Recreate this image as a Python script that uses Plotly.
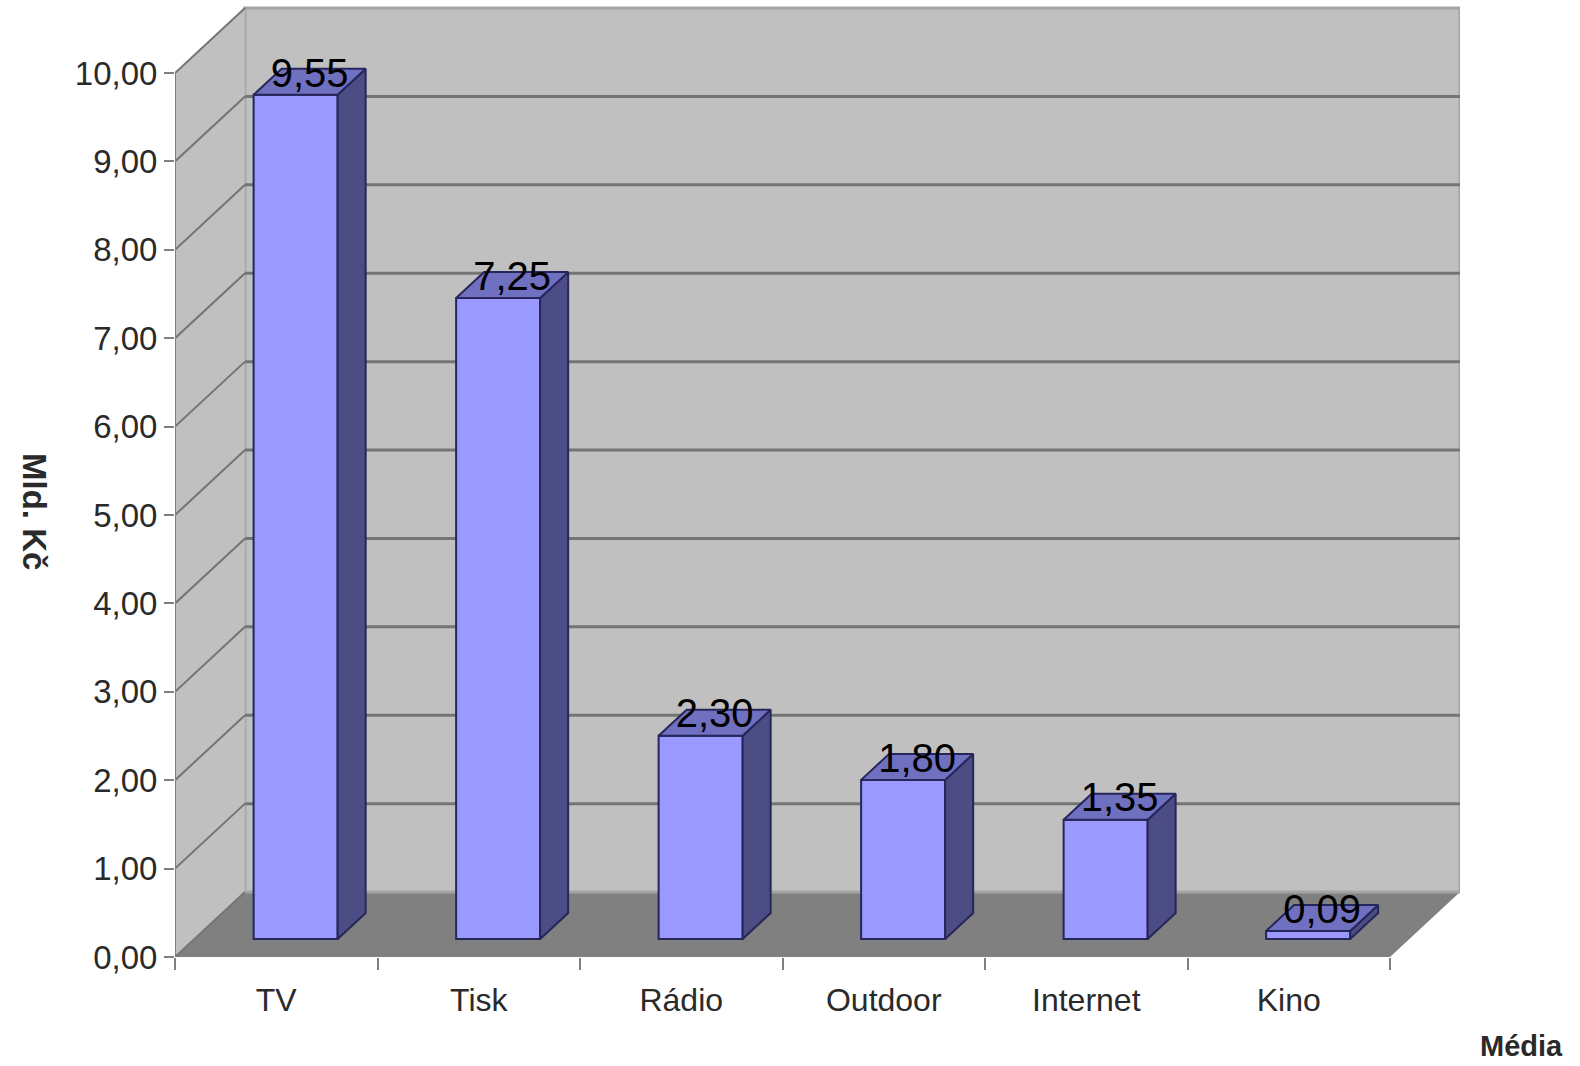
import plotly.graph_objects as go

# ---- data ----
categories = ["TV", "Tisk", "Rádio", "Outdoor", "Internet", "Kino"]
values = [9.55, 7.25, 2.30, 1.80, 1.35, 0.09]
y_ticks = [0, 1, 2, 3, 4, 5, 6, 7, 8, 9, 10]
y_title = "Mld. Kč"
x_title = "Média"

# ---- pseudo-3D geometry (in axis units) ----
n = len(categories)
DX = 0.3457      # depth offset along x (category units)
DY = 0.735       # depth offset along y (value units)
F1, F2 = 0.277, 0.677   # bar front / back depth fractions
BW = 0.415       # bar width
YMAX = 957 / 88.4

xl, xr = -0.5, n - 0.5

FRONT = "#9999FF"
TOP = "#7070C0"
SIDE = "#4D4D85"
EDGE = "#26265A"
WALL = "#C0C0C0"
FLOOR = "#808080"
GRID = "#747474"

fig = go.Figure()
shapes = []

# floor
shapes.append(dict(type="path", layer="below",
                   path=f"M {xl},0 L {xr},0 L {xr+DX},{DY} L {xl+DX},{DY} Z",
                   fillcolor=FLOOR, line=dict(width=0)))
# back wall
top = max(y_ticks)
shapes.append(dict(type="rect", layer="below", x0=xl + DX, x1=xr + DX, y0=DY, y1=top + DY,
                   fillcolor=WALL, line=dict(color="#A4A4A4", width=3)))
# side wall
shapes.append(dict(type="path", layer="below",
                   path=f"M {xl},0 L {xl},{top} L {xl+DX},{top+DY} L {xl+DX},{DY} Z",
                   fillcolor=WALL, line=dict(color="#B0B0B0", width=1)))
# gridlines on back wall + diagonals on side wall
for v in y_ticks:
    if 0 < v < top:
        shapes.append(dict(type="line", layer="below", x0=xl + DX, x1=xr + DX, y0=v + DY, y1=v + DY,
                           line=dict(color=GRID, width=3)))
    shapes.append(dict(type="line", layer="below", x0=xl, x1=xl + DX, y0=v, y1=v + DY,
                       line=dict(color=GRID, width=2)))
# front y-axis line
shapes.append(dict(type="line", x0=xl, x1=xl, y0=0, y1=top, line=dict(color="#808080", width=2)))

# bars: front faces
xc = [i + F1 * DX for i in range(n)]
fig.add_trace(go.Bar(x=xc, y=values, base=F1 * DY, width=BW,
                     marker=dict(color=FRONT, line=dict(color=EDGE, width=2)),
                     hoverinfo="skip", showlegend=False))

# top and side faces
dd = F2 - F1
tx, ty, sx, sy = [], [], [], []
for i, v in enumerate(values):
    x0 = xc[i] - BW / 2
    x1 = xc[i] + BW / 2
    y0 = F1 * DY
    y1 = y0 + v
    tx += [x0, x1, x1 + dd * DX, x0 + dd * DX, x0, None]
    ty += [y1, y1, y1 + dd * DY, y1 + dd * DY, y1, None]
    sx += [x1, x1 + dd * DX, x1 + dd * DX, x1, x1, None]
    sy += [y0, y0 + dd * DY, y1 + dd * DY, y1, y0, None]

fig.add_trace(go.Scatter(x=sx, y=sy, mode="lines", fill="toself", fillcolor=SIDE,
                         line=dict(color=EDGE, width=2), hoverinfo="skip", showlegend=False))
fig.add_trace(go.Scatter(x=tx, y=ty, mode="lines", fill="toself", fillcolor=TOP,
                         line=dict(color=EDGE, width=2), hoverinfo="skip", showlegend=False))

# value labels
lx = [i + (F1 + F2) / 2 * DX for i in range(n)]
ly = [v + F1 * DY + 0.28 * DY for v in values]
fig.add_trace(go.Scatter(x=lx, y=ly, mode="text",
                         text=[f"{v:.2f}".replace(".", ",") for v in values],
                         textposition="middle center",
                         textfont=dict(family="Liberation Sans, Arial, sans-serif", size=40, color="#000000"),
                         hoverinfo="skip", showlegend=False))

fig.update_layout(
    width=1580, height=1066,
    margin=dict(l=175, r=120, t=0, b=109),
    paper_bgcolor="white", plot_bgcolor="white",
    separators=", ",
    shapes=shapes,
    font=dict(family="Liberation Sans, Arial, sans-serif", color="#2a2a2a"),
    xaxis=dict(range=[xl, xr + DX], tickmode="array", tickvals=list(range(n)), ticktext=categories,
               ticks="", showgrid=False, zeroline=False, showline=False,
               tickfont=dict(size=32, color="#2a2a2a"), ticklabelstandoff=21,
               minor=dict(ticks="outside", tick0=-0.5, dtick=1, ticklen=12, tickwidth=2,
                          tickcolor="#808080", showgrid=False)),
    yaxis=dict(range=[0, YMAX], tickmode="array", tickvals=y_ticks, tickformat=".2f",
               ticks="outside", ticklen=10, tickwidth=2, tickcolor="#808080",
               showgrid=False, zeroline=False, showline=False,
               tickfont=dict(size=33, color="#2a2a2a")),
    annotations=[
        dict(text=f"<b>{y_title}</b>", xref="paper", yref="paper", x=(35 - 175) / 1285,
             y=(957 - 511) / 957, textangle=90, showarrow=False,
             font=dict(size=33, color="#2a2a2a"), xanchor="center", yanchor="middle"),
        dict(text=f"<b>{x_title}</b>", xref="paper", yref="paper", x=(1478 - 175) / 1285,
             y=(957 - 1064) / 957, showarrow=False, font=dict(size=29, color="#2a2a2a"),
             xanchor="left", yanchor="bottom"),
    ],
)

fig.write_html("out.html")
